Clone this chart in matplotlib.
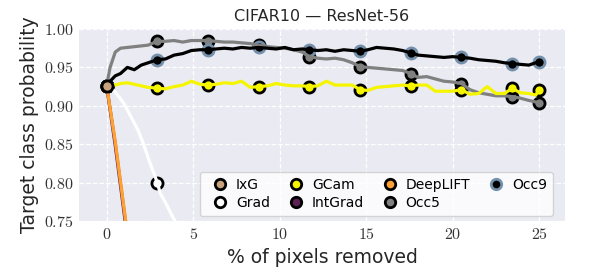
import numpy as np
import matplotlib
matplotlib.use('Agg')
import matplotlib.pyplot as plt
from matplotlib.lines import Line2D

plt.rcParams['mathtext.fontset'] = 'cm'
plt.rcParams['font.family'] = ['DejaVu Sans']

# % of pixels removed (shared x for the stable curves)
x = [0, 0.2, 0.5, 0.8, 1.2, 1.6, 2.0, 2.4, 2.93, 3.4, 3.9, 4.4, 4.9, 5.4, 5.86,
     6.3, 6.8, 7.3, 7.8, 8.3, 8.79, 9.3, 9.8, 10.3, 10.8, 11.3, 11.72, 12.2, 12.7,
     13.2, 13.7, 14.2, 14.65, 15.1, 15.6, 16.1, 16.6, 17.1, 17.58, 18.0, 18.5, 19.0,
     19.5, 20.0, 20.51, 21.0, 21.5, 22.0, 22.5, 23.0, 23.44, 23.9, 24.4, 24.8, 25.0]

gcam = [0.926, 0.928, 0.927, 0.929, 0.930, 0.928, 0.926, 0.924, 0.923, 0.922, 0.925,
        0.927, 0.932, 0.928, 0.927, 0.928, 0.930, 0.929, 0.932, 0.924, 0.925, 0.926,
        0.929, 0.927, 0.926, 0.926, 0.925, 0.926, 0.932, 0.927, 0.927, 0.927, 0.921,
        0.920, 0.924, 0.925, 0.926, 0.927, 0.926, 0.927, 0.927, 0.919, 0.919, 0.919,
        0.921, 0.915, 0.916, 0.925, 0.916, 0.916, 0.923, 0.917, 0.916, 0.914, 0.921]

occ5 = [0.926, 0.950, 0.970, 0.975, 0.976, 0.977, 0.978, 0.979, 0.984, 0.984, 0.985,
        0.983, 0.985, 0.985, 0.985, 0.984, 0.983, 0.983, 0.982, 0.981, 0.979, 0.977,
        0.976, 0.975, 0.973, 0.970, 0.964, 0.962, 0.961, 0.962, 0.960, 0.956, 0.951,
        0.950, 0.949, 0.948, 0.947, 0.946, 0.942, 0.937, 0.938, 0.935, 0.932, 0.931,
        0.929, 0.921, 0.917, 0.915, 0.913, 0.913, 0.912, 0.910, 0.907, 0.905, 0.903]

occ9 = [0.926, 0.932, 0.939, 0.942, 0.950, 0.947, 0.953, 0.956, 0.960, 0.961, 0.966,
        0.968, 0.972, 0.973, 0.973, 0.974, 0.975, 0.974, 0.976, 0.975, 0.976, 0.975,
        0.974, 0.976, 0.973, 0.974, 0.973, 0.972, 0.973, 0.971, 0.973, 0.972, 0.971,
        0.973, 0.976, 0.975, 0.974, 0.972, 0.969, 0.966, 0.965, 0.964, 0.963, 0.964,
        0.963, 0.962, 0.960, 0.959, 0.958, 0.956, 0.955, 0.954, 0.953, 0.956, 0.957]

# fast-dropping curves (leave the axes quickly)
x_grad = [0, 0.5, 1.0, 1.4, 1.8, 2.1, 2.5, 2.93, 3.1, 3.4, 3.8, 4.0, 4.5, 5.86]
grad = [0.926, 0.918, 0.903, 0.886, 0.869, 0.852, 0.826, 0.800, 0.786, 0.774, 0.756,
        0.748, 0.725, 0.68]

x_fast = [0, 0.5, 1.1, 1.5, 2.93]
ixg = [0.926, 0.852, 0.75, 0.69, 0.50]
intgrad = [0.926, 0.848, 0.745, 0.68, 0.48]
deeplift = [0.926, 0.853, 0.75, 0.69, 0.50]

marker_x = [0, 2.93, 5.86, 8.79, 11.72, 14.65, 17.58, 20.51, 23.44, 25.0]

fig = plt.figure(figsize=(5.98, 2.79), dpi=100)
ax = fig.add_axes([0.132, 0.208, 0.813, 0.688])
ax.set_facecolor('#eaeaf2')
for s in ax.spines.values():
    s.set_visible(False)
ax.grid(True, color='white', linestyle='--', linewidth=0.9)
ax.set_axisbelow(True)

series = [
    # name, xs, ys, line color, face, edge, zorder
    ('IxG', x_fast, ixg, '#c8a27c', '#c8a27c', 'black', 3.0),
    ('Grad', x_grad, grad, 'white', 'white', 'black', 3.1),
    ('IntGrad', x_fast, intgrad, '#5e1f54', '#5e1f54', 'black', 3.2),
    ('DeepLIFT', x_fast, deeplift, '#ffa033', '#ffa033', 'black', 3.3),
    ('Occ5', x, occ5, '#808080', '#808080', 'black', 3.4),
    ('Occ9', x, occ9, 'black', 'black', '#7590ab', 3.5),
    ('GCam', x, gcam, '#f5f500', '#f5f500', 'black', 3.6),
]

for name, xs, ys, lc, fc, ec, z in series:
    xs = np.array(xs)
    ys = np.array(ys)
    ax.plot(xs, ys, color=lc, linewidth=2.3, zorder=z, solid_capstyle='round')
    m = np.isin(np.round(xs, 2), np.round(marker_x, 2))
    ax.plot(xs[m], ys[m], linestyle='none', marker='o', markersize=8,
            markerfacecolor=fc, markeredgecolor=ec, markeredgewidth=2, zorder=2.5)

# IxG start marker sits on top
ax.plot(x_fast[0], ixg[0], linestyle='none', marker='o', markersize=8,
        markerfacecolor='#c8a27c', markeredgecolor='black', markeredgewidth=2, zorder=5)

ax.set_xlim(-1.6, 26.5)
ax.set_ylim(0.75, 1.0)
xt = [0, 5, 10, 15, 20, 25]
yt = [0.75, 0.80, 0.85, 0.90, 0.95, 1.00]
ax.set_xticks(xt)
ax.set_xticklabels(['$%d$' % v for v in xt], fontsize=11.5)
ax.set_yticks(yt)
ax.set_yticklabels(['$%.2f$' % v for v in yt], fontsize=11.5)
ax.tick_params(length=0, pad=4, colors='#333333')

ax.set_title('CIFAR10 — ResNet-56', fontsize=11.5, color='#262626', pad=6)
ax.set_xlabel('% of pixels removed', fontsize=13.5, color='#262626', labelpad=5)
ax.set_ylabel('Target class probability', fontsize=13.5, color='#262626', labelpad=3)

legend_items = [
    ('IxG', '#c8a27c', 'black'),
    ('Grad', 'white', 'black'),
    ('GCam', '#f5f500', 'black'),
    ('IntGrad', '#5e1f54', 'black'),
    ('DeepLIFT', '#ffa033', 'black'),
    ('Occ5', '#808080', 'black'),
    ('Occ9', 'black', '#7590ab'),
]
handles = [Line2D([], [], linestyle='none', marker='o', markersize=7.5,
                  markerfacecolor=fc, markeredgecolor=ec, markeredgewidth=2, label=n)
           for n, fc, ec in legend_items]
leg = ax.legend(handles=handles, ncol=4, loc='lower right', fontsize=10,
                frameon=True, facecolor='white', edgecolor='#cccccc',
                handlelength=2.1, handletextpad=0.1, columnspacing=0.8,
                borderpad=0.43, labelspacing=0.3, borderaxespad=0,
                bbox_to_anchor=(0.975, 0.026))
leg.set_zorder(10)

fig.savefig('out.png', dpi=100)
